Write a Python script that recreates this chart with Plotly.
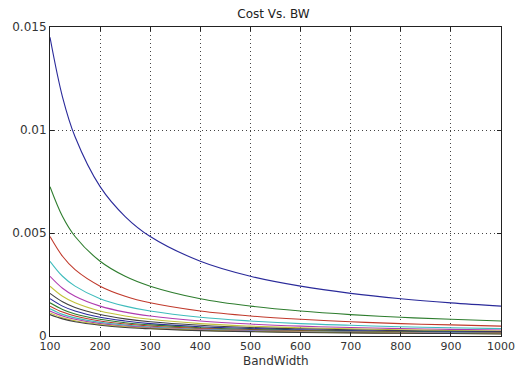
import plotly.graph_objects as go

bandwidth = [100, 125, 150, 200, 250, 300, 400, 500, 600, 700, 800, 900, 1000]

cost_1 = [0.0145, 0.0116, 0.00967, 0.00725, 0.0058, 0.00483, 0.00363, 0.0029, 0.00242, 0.00207, 0.00181, 0.00161, 0.00145]
cost_2 = [0.00725, 0.0058, 0.00483, 0.00363, 0.0029, 0.00242, 0.00181, 0.00145, 0.00121, 0.00104, 0.00091, 0.00081, 0.00073]
cost_3 = [0.00483, 0.00387, 0.00322, 0.00242, 0.00193, 0.00161, 0.00121, 0.00097, 0.00081, 0.00069, 0.0006, 0.00054, 0.00048]
cost_4 = [0.00363, 0.0029, 0.00242, 0.00181, 0.00145, 0.00121, 0.00091, 0.00073, 0.0006, 0.00052, 0.00045, 0.0004, 0.00036]
cost_5 = [0.0029, 0.00232, 0.00193, 0.00145, 0.00116, 0.00097, 0.00073, 0.00058, 0.00048, 0.00041, 0.00036, 0.00032, 0.00029]
cost_6 = [0.00242, 0.00193, 0.00161, 0.00121, 0.00097, 0.00081, 0.0006, 0.00048, 0.0004, 0.00035, 0.0003, 0.00027, 0.00024]
cost_7 = [0.00207, 0.00166, 0.00138, 0.00104, 0.00083, 0.00069, 0.00052, 0.00041, 0.00035, 0.0003, 0.00026, 0.00023, 0.00021]
cost_8 = [0.00181, 0.00145, 0.00121, 0.00091, 0.00073, 0.0006, 0.00045, 0.00036, 0.0003, 0.00026, 0.00023, 0.0002, 0.00018]
cost_9 = [0.00161, 0.00129, 0.00107, 0.00081, 0.00064, 0.00054, 0.0004, 0.00032, 0.00027, 0.00023, 0.0002, 0.00018, 0.00016]
cost_10 = [0.00145, 0.00116, 0.00097, 0.00073, 0.00058, 0.00048, 0.00036, 0.00029, 0.00024, 0.00021, 0.00018, 0.00016, 0.00015]
cost_11 = [0.00132, 0.00105, 0.00088, 0.00066, 0.00053, 0.00044, 0.00033, 0.00026, 0.00022, 0.00019, 0.00016, 0.00015, 0.00013]
cost_12 = [0.00121, 0.00097, 0.00081, 0.0006, 0.00048, 0.0004, 0.0003, 0.00024, 0.0002, 0.00017, 0.00015, 0.00013, 0.00012]
cost_13 = [0.00112, 0.00089, 0.00074, 0.00056, 0.00045, 0.00037, 0.00028, 0.00022, 0.00019, 0.00016, 0.00014, 0.00012, 0.00011]
cost_14 = [0.00104, 0.00083, 0.00069, 0.00052, 0.00041, 0.00035, 0.00026, 0.00021, 0.00017, 0.00015, 0.00013, 0.00012, 0.0001]

series = [cost_1, cost_2, cost_3, cost_4, cost_5, cost_6, cost_7,
          cost_8, cost_9, cost_10, cost_11, cost_12, cost_13, cost_14]

color_order = ["#2a2a9a", "#2e7d2e", "#c0392b", "#3fbcbc", "#b03cb0", "#c2c23a", "#404040"]

x_ticks = [100, 200, 300, 400, 500, 600, 700, 800, 900, 1000]
y_ticks = [0, 0.005, 0.01, 0.015]
y_tick_labels = ["0", "0.005", "0.01", "0.015"]

FONT = "DejaVu Sans, Verdana, sans-serif"

fig = go.Figure()
for i, ys in enumerate(series):
    fig.add_trace(go.Scatter(
        x=bandwidth, y=ys, mode="lines",
        line=dict(color=color_order[i % len(color_order)], width=1.1, shape="spline", smoothing=1.0),
        showlegend=False, hoverinfo="skip",
    ))

axis_common = dict(
    showline=True, linecolor="#222", linewidth=1, mirror="allticks",
    ticks="inside", ticklen=4, tickcolor="#222",
    showgrid=True, gridcolor="#444", griddash="1px,3px", gridwidth=1,
    zeroline=False, automargin=False, ticklabeloverflow="allow",
)

fig.update_layout(
    width=515, height=369,
    margin=dict(l=50, r=14, t=27, b=33),
    paper_bgcolor="white", plot_bgcolor="white",
    title=dict(text="Cost Vs. BW", x=0.531, xanchor="center", y=0.962, yanchor="middle",
               automargin=False,
               font=dict(family=FONT, size=12, color="#222")),
    xaxis=dict(range=[100, 1000], tickvals=x_ticks, ticktext=[str(v) for v in x_ticks],
               ticklabelstandoff=0, tickfont=dict(family=FONT, size=11, color="#333"),
               **axis_common),
    yaxis=dict(range=[0, 0.015], tickvals=y_ticks, ticktext=y_tick_labels,
               tickfont=dict(family=FONT, size=12, color="#333"), **axis_common),
    annotations=[dict(text="BandWidth", x=0.5, xref="paper", y=-0.081, yref="paper",
                      xanchor="center", yanchor="middle", showarrow=False,
                      font=dict(family=FONT, size=12, color="#333"))],
)

# remove the browser's default 8px body margin so the figure fills the window exactly
fig.write_html("out.html", config={"displayModeBar": False},
               post_script="document.body.style.margin='0';")
